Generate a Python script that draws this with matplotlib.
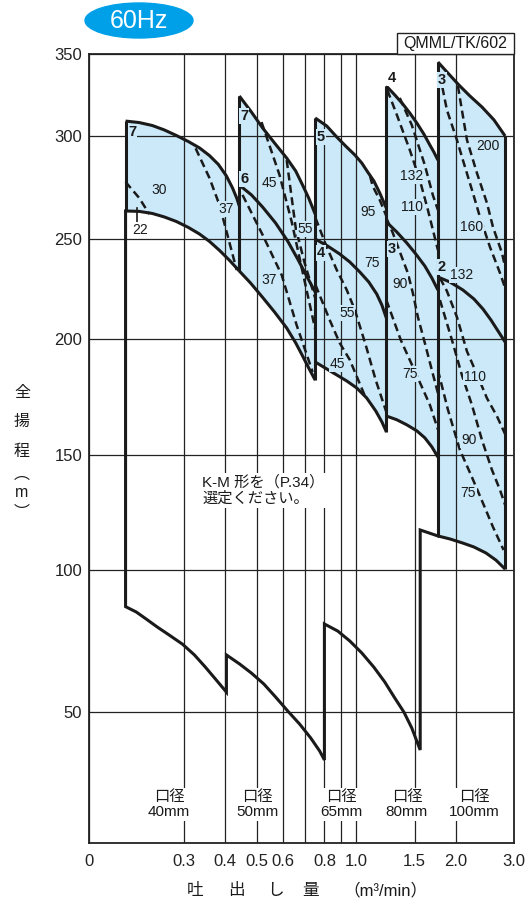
import numpy as np
import matplotlib
matplotlib.use("Agg")
import matplotlib.pyplot as plt
from matplotlib.patches import Ellipse, Rectangle
from matplotlib.ticker import FixedLocator, FixedFormatter, NullFormatter
import matplotlib.transforms as mtransforms

plt.rcParams['font.family'] = ['Liberation Sans', 'Noto Sans CJK JP', 'DejaVu Sans']

# ---------------- data (Q in m3/min, H in m) ----------------
qA, qAB, qBC, qCD, qDE, qE = 0.20, 0.442, 0.75, 1.232, 1.765, 2.82

A_top_q = [0.20, 0.220, 0.241, 0.262, 0.285, 0.310, 0.335, 0.359, 0.382, 0.404, 0.4215, 0.434, 0.442]
A_top_h = [309.1, 308.2, 306.4, 303.7, 300.3, 297.3, 294.2, 290.5, 286.2, 280.6, 274.8, 269.9, 266.0]
A_low_q = [0.20, 0.220, 0.241, 0.262, 0.285, 0.310, 0.335, 0.359, 0.385, 0.413, 0.442]
A_low_h = [263.6, 263.4, 262.4, 260.7, 258.5, 255.6, 252.4, 248.8, 244.3, 239.3, 234.0]

B_top_q = [0.442, 0.481, 0.520, 0.565, 0.615, 0.655, 0.687, 0.717, 0.75]
B_top_h = [324.4, 314.6, 304.9, 296.6, 289.3, 283.0, 276.2, 269.9, 262.1]
B_mid_q = [0.442, 0.481, 0.520, 0.569, 0.619, 0.664, 0.712, 0.75]
B_mid_h = [276.2, 271.4, 265.5, 257.8, 249.0, 240.0, 230.5, 223.5]
B_low_q = [0.442, 0.478, 0.520, 0.565, 0.615, 0.655, 0.687, 0.717, 0.75]
B_low_h = [234.0, 228.0, 220.8, 213.5, 205.5, 198.3, 192.7, 187.5, 182.3]

C_top_q = [0.75, 0.813, 0.872, 0.928, 0.989, 1.038, 1.082, 1.129, 1.177, 1.232]
C_top_h = [311.0, 306.1, 299.5, 295.1, 290.8, 286.9, 282.5, 278.2, 272.3, 265.0]
C_mid_q = [0.75, 0.818, 0.890, 0.955, 1.024, 1.090, 1.152, 1.194, 1.232]
C_mid_h = [250.0, 246.5, 242.5, 238.5, 233.5, 228.5, 222.5, 217.0, 210.5]
C_low_q = [0.75, 0.813, 0.872, 0.935, 1.002, 1.074, 1.144, 1.194, 1.232]
C_low_h = [190.1, 187.1, 184.5, 181.9, 178.9, 174.6, 169.0, 164.3, 160.0]

D_top_q = [1.232, 1.307, 1.382, 1.451, 1.524, 1.600, 1.669, 1.716, 1.765]
D_top_h = [330.5, 325.0, 319.5, 314.0, 307.9, 301.2, 295.6, 292.2, 288.3]
D_mid_q = [1.232, 1.325, 1.421, 1.513, 1.611, 1.692, 1.765]
D_mid_h = [258.3, 253.4, 248.0, 242.5, 236.5, 230.5, 224.5]
D_low_q = [1.232, 1.325, 1.421, 1.524, 1.611, 1.692, 1.765]
D_low_h = [166.8, 165.2, 163.0, 160.4, 157.4, 153.5, 149.1]

E_top_q = [1.765, 1.892, 2.043, 2.206, 2.399, 2.609, 2.82]
E_top_h = [345.1, 338.4, 331.1, 324.4, 317.7, 309.8, 300.0]
E_mid_q = [1.765, 1.919, 2.101, 2.269, 2.416, 2.555, 2.684, 2.82]
E_mid_h = [231.0, 228.5, 224.5, 220.0, 215.0, 209.5, 204.0, 198.7]
E_low_q = [1.765, 1.919, 2.101, 2.269, 2.467, 2.645, 2.82]
E_low_h = [114.8, 113.5, 111.7, 110.0, 107.4, 104.3, 100.4]

# K-M lower sawtooth (one continuous heavy line)
KM_q = [0.20, 0.20, 0.2156, 0.2312, 0.2496, 0.2711, 0.2973, 0.3232, 0.3489, 0.3743, 0.404,
        0.404, 0.443, 0.481, 0.524, 0.569, 0.619, 0.673, 0.727, 0.774, 0.80,
        0.80, 0.878, 0.955, 1.038, 1.129, 1.218, 1.307, 1.392, 1.471, 1.56,
        1.56, 1.765]
KM_h = [263.6, 87.1, 85.2, 82.7, 79.9, 77.1, 73.9, 70.1, 65.8, 61.6, 57.0,
        70.1, 66.9, 63.7, 59.9, 55.3, 50.4, 45.4, 40.1, 35.1, 31.7,
        81.0, 78.5, 75.0, 70.8, 65.8, 60.6, 54.9, 50.0, 43.9, 35.5,
        117.4, 114.8]

# kW limit lines (dashed)
kw_lines = {
    'A30':  ([0.20, 0.22, 0.236], [277.7, 269.9, 262.1]),
    'A37':  ([0.326, 0.359, 0.385, 0.407, 0.434], [294.0, 279.6, 266.5, 251.9, 234.5]),
    'B45':  ([0.516, 0.585, 0.637, 0.683, 0.75], [308.5, 281.1, 258.3, 235.5, 205]),
    'B37':  ([0.452, 0.52, 0.594, 0.659, 0.737], [271.4, 252, 232, 207, 185.8]),
    'B55':  ([0.615, 0.655, 0.697, 0.75], [288.3, 255.3, 238, 220.5]),
    'C95':  ([1.10, 1.12, 1.177, 1.232], [280.5, 275.7, 268.9, 261.1]),
    'C55':  ([0.752, 0.813, 0.872, 0.935, 0.989, 1.067, 1.144, 1.232],
             [260.2, 246, 234.5, 224.5, 214.5, 197.4, 182.3, 168.5]),
    'C45':  ([0.752, 0.83, 0.89, 0.955, 1.067], [227, 209.5, 198.3, 191, 174.6]),
    'D132': ([1.353, 1.471, 1.611, 1.703, 1.765], [323.2, 306.7, 285.9, 271.4, 264.1]),
    'D110': ([1.241, 1.326, 1.451, 1.556, 1.646, 1.765], [328, 312.8, 293.2, 278.6, 264.1, 244.5]),
    'D90':  ([1.232, 1.289, 1.372, 1.431, 1.482, 1.535, 1.611, 1.692, 1.765],
             [260.2, 252.9, 241, 233, 223, 211, 198.3, 186.6, 176.7]),
    'D75':  ([1.232, 1.362, 1.535, 1.669, 1.765], [219.5, 199.6, 183.2, 171.6, 161]),
    'E132': ([1.79, 1.879, 2.015, 2.101, 2.253, 2.366, 2.537, 2.721, 2.82],
             [337.2, 315.9, 298.1, 288.3, 272.3, 260.7, 246, 233, 225.5]),
    'E160': ([2.029, 2.086, 2.161, 2.317, 2.484, 2.591, 2.759, 2.82],
             [330.5, 315.9, 298.1, 282.0, 267.5, 255.8, 243, 236]),
    'E110': ([1.79, 1.879, 2.015, 2.161, 2.317, 2.484, 2.664, 2.82],
             [230.5, 224, 211, 194.7, 184.8, 174.5, 166.7, 159]),
    'E90':  ([1.79, 1.946, 2.086, 2.237, 2.399, 2.573, 2.721, 2.82],
             [219.5, 199.6, 184.5, 171.6, 156.5, 143.5, 134.8, 128.3]),
    'E75':  ([1.765, 1.892, 2.057, 2.237, 2.416, 2.591, 2.79],
             [186.6, 169.6, 152.2, 140.4, 129.1, 118.7, 108.7]),
}
tick22_q = [0.217, 0.217]
tick22_h = [265.0, 258.4]

# labels inside chart
lab_txt = ['7', '30', '22', '37',
           '7', '6', '45', '37', '55',
           '5', '95', '4', '75', '55', '45',
           '4', '132', '110', '3', '90', '75',
           '3', '200', '160', '2', '132', '110', '90', '75']
lab_q = [0.210, 0.253, 0.222, 0.404,
         0.458, 0.458, 0.546, 0.546, 0.702,
         0.779, 1.082, 0.779, 1.113, 0.935, 0.878,
         1.280, 1.471, 1.471, 1.280, 1.353, 1.451,
         1.815, 2.503, 2.237, 1.815, 2.086, 2.285, 2.192, 2.176]
lab_h = [302.4, 273.8, 254.4, 264.6,
         312.2, 279.1, 277.2, 229.5, 254.9,
         299.5, 263.1, 243, 238, 213, 189.2,
         335.4, 280.6, 265.5, 245, 227.5, 185,
         334.1, 295.1, 255.8, 236, 232, 183.6, 156.5, 133.5]
lab_bold = [True, False, False, False,
            True, True, False, False, False,
            True, False, True, False, False, False,
            True, False, False, True, False, False,
            True, False, False, True, False, False, False, False]

diam_txt = ['口径\n40mm', '口径\n50mm', '口径\n65mm', '口径\n80mm', '口径\n100mm']
diam_q = [0.271, 0.50, 0.903, 1.421, 2.27]

xtick_vals = [0.155, 0.3, 0.4, 0.5, 0.6, 0.8, 1.0, 1.5, 2.0, 3.0]
xtick_labels = ['0', '0.3', '0.4', '0.5', '0.6', '0.8', '1.0', '1.5', '2.0', '3.0']
xminor_vals = [0.7, 0.9]
ytick_vals = [50, 100, 150, 200, 250, 300, 350]

# ---------------- y scale (chart's own non-uniform head scale) ----------------
HA = np.array([0, 50, 100, 150, 200, 250, 300, 350], float)
PA = np.array([0, 131, 273, 388, 504, 604, 707, 789], float)


def _interp_ext(v, xs, ys):
    v = np.asarray(v, float)
    out = np.interp(v, xs, ys)
    lo_s = (ys[1] - ys[0]) / (xs[1] - xs[0])
    hi_s = (ys[-1] - ys[-2]) / (xs[-1] - xs[-2])
    out = np.where(v < xs[0], ys[0] + (v - xs[0]) * lo_s, out)
    out = np.where(v > xs[-1], ys[-1] + (v - xs[-1]) * hi_s, out)
    return out


def fwd(h):
    return _interp_ext(h, HA, PA)


def inv(p):
    return _interp_ext(p, PA, HA)


# ---------------- figure ----------------
W, H = 529, 905
fig = plt.figure(figsize=(W / 100, H / 100), dpi=100)
ax = fig.add_axes([89 / W, 1 - 843 / H, (514 - 89) / W, (843 - 54) / H])
ax.set_xscale('log')
ax.set_yscale('function', functions=(fwd, inv))
ax.set_xlim(0.155, 3.0)
ax.set_ylim(0, 350)

FILL = '#cbe9f8'
INK = '#1a1a1a'
LW = 2.2


def fill_group(tq, th, lq, lh):
    ax.fill(np.r_[tq, lq[::-1]], np.r_[th, lh[::-1]], color=FILL, lw=0, zorder=1)


fill_group(A_top_q, A_top_h, A_low_q, A_low_h)
fill_group(B_top_q, B_top_h, B_low_q, B_low_h)
fill_group(C_top_q, C_top_h, C_low_q, C_low_h)
fill_group(D_top_q, D_top_h, D_low_q, D_low_h)
fill_group(E_top_q, E_top_h, E_low_q, E_low_h)

# grid / ticks
ax.xaxis.set_major_locator(FixedLocator(xtick_vals))
ax.xaxis.set_major_formatter(FixedFormatter(xtick_labels))
ax.xaxis.set_minor_locator(FixedLocator(xminor_vals))
ax.xaxis.set_minor_formatter(NullFormatter())
ax.yaxis.set_major_locator(FixedLocator(ytick_vals))
ax.yaxis.set_major_formatter(FixedFormatter([str(v) for v in ytick_vals]))
ax.yaxis.set_minor_locator(FixedLocator([]))
ax.grid(which='both', color='#222222', lw=0.9, zorder=2)
ax.set_axisbelow(False)
ax.tick_params(which='both', length=0, labelsize=12, colors='#222222')
ax.tick_params(axis='x', pad=8)
ax.tick_params(axis='y', pad=5)
for s in ax.spines.values():
    s.set_linewidth(1.3)
    s.set_color('#222222')
    s.set_zorder(5)

# heavy outlines
k = dict(color=INK, lw=LW, zorder=4, solid_joinstyle='round', solid_capstyle='butt')
for q_, h_ in [(A_top_q, A_top_h), (A_low_q, A_low_h), (B_top_q, B_top_h), (B_mid_q, B_mid_h),
               (B_low_q, B_low_h), (C_top_q, C_top_h), (C_mid_q, C_mid_h), (C_low_q, C_low_h),
               (D_top_q, D_top_h), (D_mid_q, D_mid_h), (D_low_q, D_low_h),
               (E_top_q, E_top_h), (E_mid_q, E_mid_h), (E_low_q, E_low_h)]:
    ax.plot(q_, h_, **k)
ax.plot([qAB, qAB], [B_top_h[0], A_low_h[-1]], **k)
ax.plot([qBC, qBC], [C_top_h[0], B_low_h[-1]], **k)
ax.plot([qCD, qCD], [D_top_h[0], C_low_h[-1]], **k)
ax.plot([qDE, qDE], [E_top_h[0], E_low_h[0]], **k)
ax.plot([qE, qE], [E_top_h[-1], E_low_h[-1]], **k)
ax.plot([qA, qA], [A_top_h[0], A_low_h[0]], **k)
ax.plot(KM_q, KM_h, color=INK, lw=LW, zorder=4, solid_joinstyle='miter')
ax.plot(tick22_q, tick22_h, color=INK, lw=1.2, zorder=4)

for name, (q_, h_) in kw_lines.items():
    ax.plot(q_, h_, color=INK, lw=1.8, ls=(0, (3.2, 1.8)), zorder=3)

# labels
for t, q_, h_, b in zip(lab_txt, lab_q, lab_h, lab_bold):
    bg = 'white' if t == '22' or (t == '4' and h_ > 330) else FILL
    ax.text(q_, h_, t, ha='center', va='center', fontsize=10.5 if b else 10,
            fontweight='bold' if b else 'normal', color=INK, zorder=6,
            bbox=dict(fc=bg, ec='none', pad=0.6))

trans = mtransforms.blended_transform_factory(ax.transData, ax.transAxes)
for t, q_ in zip(diam_txt, diam_q):
    ax.text(q_, 0.049, t, transform=trans, ha='center', va='center', fontsize=11,
            linespacing=1.15, color=INK, zorder=6,
            bbox=dict(fc='white', ec='none', pad=1.0))

ax.text(0.341, 0.447, 'K-M 形を（P.34）\n選定ください。', transform=trans, ha='left', va='center',
        fontsize=11, linespacing=1.2, color=INK, zorder=6,
        bbox=dict(fc='white', ec='none', pad=1.5))

# axis titles
for ch, xp in zip(['吐', '出', 'し', '量', '（m³/min）'], [195.5, 236.7, 275.6, 311, 385]):
    fig.text(xp / W, 1 - 890 / H, ch, ha='center', va='center', fontsize=12, color=INK)
for ch, yp in zip(['全', '揚', '程', '︵', 'm', '︶'], [392, 421, 451, 474, 492, 512]):
    fig.text(22 / W, 1 - yp / H, ch, ha='center', va='center', fontsize=11.5, color=INK)

# 60Hz badge
fig.add_artist(Ellipse((139 / W, 1 - 20.5 / H), 108 / W, 35 / H, transform=fig.transFigure,
                       color='#00a0e9', zorder=1))
fig.text(139 / W, 1 - 21 / H, '60Hz', ha='center', va='center', fontsize=18, color='white')

# model box
fig.add_artist(Rectangle((397 / W, 1 - 54 / H), (514 - 397) / W, 21 / H, transform=fig.transFigure,
                         fc='white', ec='#222222', lw=1.0))
fig.text(455.5 / W, 1 - 43.5 / H, 'QMML/TK/602', ha='center', va='center', fontsize=11.5,
         color=INK)

fig.savefig('out.png', dpi=100)
